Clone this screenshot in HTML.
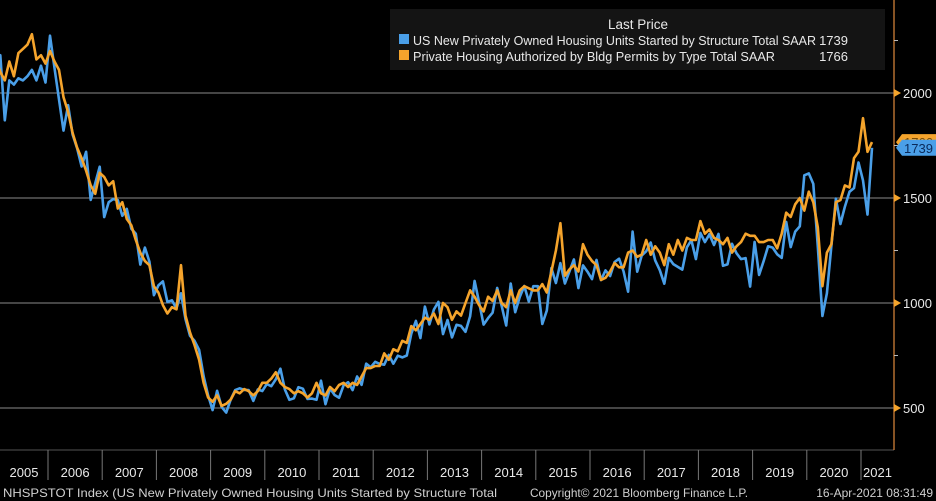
<!DOCTYPE html>
<html><head><meta charset="utf-8"><style>
body{margin:0;background:#000;width:936px;height:501px;overflow:hidden;font-family:"Liberation Sans",sans-serif}
svg{display:block}
</style></head><body>
<svg width="936" height="501">
<rect width="936" height="501" fill="#000"/>
<g id="grid"></g>
<g id="xaxis"></g>
<g id="series"></g>
<line x1="894" y1="0" x2="894" y2="450" stroke="#e08a3c" stroke-width="1.2"/>
<g id="yaxis"></g>
<g>
<rect x="390" y="9" width="495" height="61" fill="#141414"/>
<text x="638" y="29" fill="#e8e8e8" font-size="13.5" text-anchor="middle">Last Price</text>
<rect x="399" y="34" width="10" height="10" fill="#4a9fe8"/>
<text x="413" y="45" fill="#e8e8e8" font-size="13" textLength="403" lengthAdjust="spacingAndGlyphs">US New Privately Owned Housing Units Started by Structure Total SAAR</text>
<text x="848" y="45" fill="#e8e8e8" font-size="13" text-anchor="end">1739</text>
<rect x="399" y="50" width="10" height="10" fill="#f5a42c"/>
<text x="413" y="61" fill="#e8e8e8" font-size="13" textLength="362" lengthAdjust="spacingAndGlyphs">Private Housing Authorized by Bldg Permits by Type Total SAAR</text>
<text x="848" y="61" fill="#e8e8e8" font-size="13" text-anchor="end">1766</text>
</g>
<g id="flags"></g>
<text x="3" y="497" fill="#d0d0d0" font-size="12" textLength="494" lengthAdjust="spacingAndGlyphs">NHSPSTOT Index (US New Privately Owned Housing Units Started by Structure Total</text>
<text x="530" y="497" fill="#d0d0d0" font-size="12" textLength="218" lengthAdjust="spacingAndGlyphs">Copyright© 2021 Bloomberg Finance L.P.</text>
<text x="933" y="497" fill="#d0d0d0" font-size="12" text-anchor="end">16-Apr-2021 08:31:49</text>
</svg>
<script>
const years=[2005,2006,2007,2008,2009,2010,2011,2012,2013,2014,2015,2016,2017,2018,2019,2020,2021];
const yTicks=[500,1000,1500,2000];
const starts=[2144,2180,1870,2060,2040,2070,2060,2080,2110,2060,2130,2050,
2273,2119,1969,1821,1942,1802,1737,1650,1720,1491,1570,1649,
1409,1480,1495,1490,1415,1448,1354,1330,1183,1264,1197,1037,
1084,1103,1005,1013,975,1046,923,844,820,777,652,560,
490,582,505,478,540,585,594,586,585,534,588,581,
614,604,636,687,588,539,546,599,592,543,545,539,
630,518,593,562,549,608,623,585,650,610,711,694,
720,710,706,753,711,749,741,750,854,915,833,983,
898,969,1005,852,919,836,896,891,863,936,1105,1003,
897,928,954,1072,985,893,1093,956,1028,1081,1007,1080,
1080,900,964,1166,1095,1190,1093,1150,1207,1071,1179,1149,
1114,1205,1109,1155,1128,1195,1211,1150,1054,1340,1149,1226,
1246,1288,1203,1156,1092,1215,1185,1172,1159,1265,1299,1209,
1334,1290,1327,1276,1329,1177,1184,1282,1237,1209,1214,1078,
1291,1134,1199,1270,1264,1232,1215,1386,1266,1340,1365,1608,
1617,1567,1269,938,1046,1273,1497,1376,1459,1530,1547,1669,
1584,1421,1739];
const permits=[2160,2100,2060,2150,2080,2190,2210,2230,2280,2160,2180,2140,
2200,2150,2110,1980,1910,1810,1740,1690,1630,1560,1520,1620,
1600,1560,1580,1450,1480,1400,1370,1300,1240,1200,1180,1080,
1050,990,950,980,970,1180,940,860,800,730,620,550,
530,560,510,520,540,580,570,590,580,560,580,620,
620,640,670,620,600,590,570,580,570,550,570,620,
570,560,600,580,610,620,600,620,610,650,690,690,
700,700,760,730,780,770,820,810,890,870,900,930,
920,950,900,1000,980,920,960,940,1000,1060,1030,990,
960,1030,1010,1060,1000,980,1060,1000,1060,1080,1070,1060,
1060,1090,1050,1150,1250,1380,1130,1160,1180,1150,1280,1230,
1200,1180,1110,1120,1150,1190,1170,1170,1240,1250,1220,1230,
1300,1230,1270,1240,1180,1280,1230,1300,1250,1310,1300,1300,
1390,1330,1350,1310,1300,1280,1310,1240,1270,1290,1330,1320,
1320,1290,1290,1300,1300,1260,1330,1430,1410,1470,1500,1440,
1530,1480,1360,1080,1240,1280,1480,1490,1560,1550,1690,1720,
1880,1720,1766];
const NS="http://www.w3.org/2000/svg";
const yScale=v=>93+(2000-v)*0.21;
const yearX=y=>48+(y-2006)*54.2;
const monthX=i=>yearX(2005)+i*54.2/12+2;
function mk(tag,attrs,parent){const e=document.createElementNS(NS,tag);for(const k in attrs)e.setAttribute(k,attrs[k]);parent.appendChild(e);return e;}
const grid=document.getElementById('grid'),xa=document.getElementById('xaxis'),ya=document.getElementById('yaxis'),ser=document.getElementById('series'),fl=document.getElementById('flags');
yTicks.forEach(v=>{
 const l=mk('line',{x1:0,x2:894,y1:yScale(v),y2:yScale(v),stroke:'#8a8a8a','stroke-width':1},grid);
 
 
 const t=mk('path',{d:`M894 ${yScale(v)-4}L901 ${yScale(v)}L894 ${yScale(v)+4}Z`,fill:'#f5a42c'},ya);
 
 
 const tx=mk('text',{x:903,y:yScale(v)+5,fill:'#e8e8e8','font-size':13},ya);
 tx.textContent=v;
 
 
 const m=mk('line',{x1:894,x2:898,y1:yScale(v+250),y2:yScale(v+250),stroke:'#bbb'},ya);
 
 
});
mk('line',{x1:0,x2:894,y1:450,y2:450,stroke:'#555'},xa);
years.forEach(y=>{
 if(y>2005){const l=mk('line',{x1:yearX(y),x2:yearX(y),y1:450,y2:480,stroke:'#777'},xa);
 
 }
 const s=Math.max(yearX(y),0),e=Math.min(yearX(y+1),894);
 const t=mk('text',{x:(s+e)/2,y:477,fill:'#e8e8e8','font-size':13,'text-anchor':'middle'},xa);
 t.textContent=y;
 
 
});
function line(data,color,name){
 const d=data.map((v,i)=>(i?'L':'M')+monthX(i).toFixed(1)+' '+yScale(v).toFixed(1)).join('');
 const p=mk('path',{d,fill:'none',stroke:color,'stroke-width':2.6,'stroke-linejoin':'round'},ser);
 
 
}
line(starts,'#4a9fe8','series-starts');
line(permits,'#f5a42c','series-permits');
function flag(v,bg,fg,name){
 const y=yScale(v);
 const g=mk('g',{},fl);
 
 
 mk('path',{d:`M896 ${y}L902 ${y-8}L936 ${y-8}L936 ${y+8}L902 ${y+8}Z`,fill:bg},g);
 const t=mk('text',{x:904,y:y+5,fill:fg,'font-size':13},g);
 t.textContent=v;
}
flag(permits[permits.length-1],'#f5a42c','#7a4a00','last-value-flag-permits');
flag(starts[starts.length-1],'#4a9fe8','#0a2a5a','last-value-flag-starts');
</script>
</body></html>
